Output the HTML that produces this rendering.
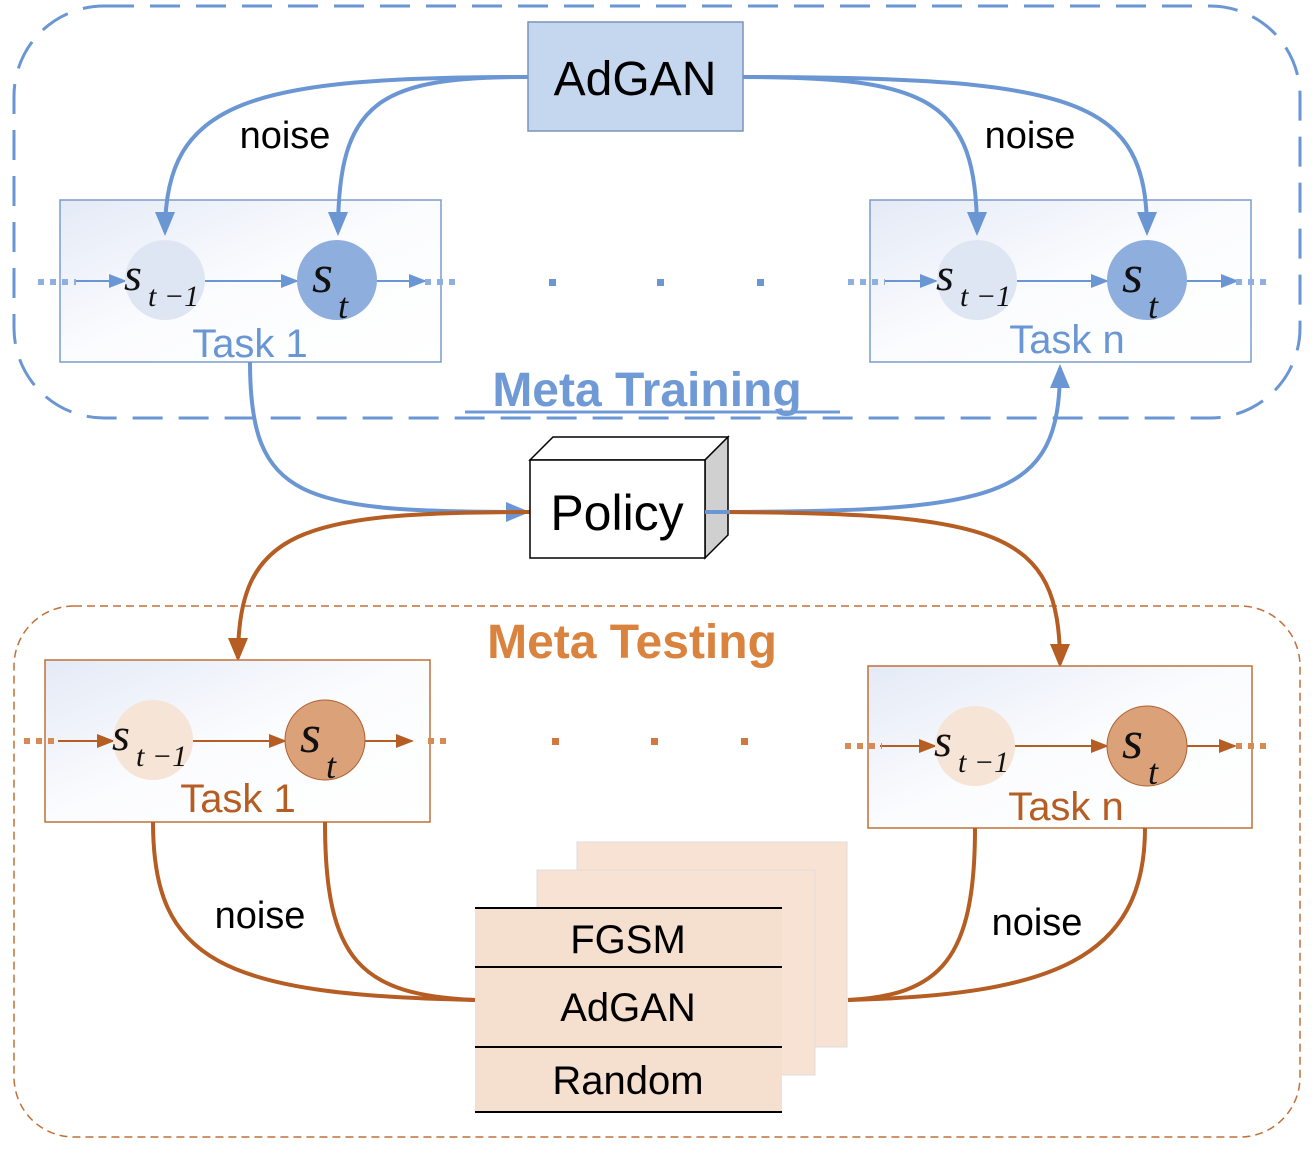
<!DOCTYPE html>
<html><head><meta charset="utf-8"><style>body{margin:0;background:#fff}svg{display:block}</style></head><body>
<svg width="1315" height="1155" viewBox="0 0 1315 1155" xmlns="http://www.w3.org/2000/svg" font-family="Liberation Sans, sans-serif">
<defs>
<linearGradient id="g" x1="0" y1="0" x2="1" y2="1"><stop offset="0" stop-color="#e4eaf6"/><stop offset="0.5" stop-color="#fbfcfe"/><stop offset="1" stop-color="#ffffff"/></linearGradient>
<marker id="abL" markerWidth="26" markerHeight="26" refX="20" refY="13" orient="auto" markerUnits="userSpaceOnUse"><path d="M0,3 L24,13 L0,23z" fill="#6a96d4"/></marker>
<marker id="abS" markerWidth="20" markerHeight="20" refX="16" refY="10" orient="auto" markerUnits="userSpaceOnUse"><path d="M0,3 L18,10 L0,17z" fill="#6a96d4"/></marker>
<marker id="ao" markerWidth="20" markerHeight="20" refX="16" refY="10" orient="auto" markerUnits="userSpaceOnUse"><path d="M0,3 L18,10 L0,17z" fill="#b55d22"/></marker>
<marker id="aoL" markerWidth="26" markerHeight="26" refX="20" refY="13" orient="auto" markerUnits="userSpaceOnUse"><path d="M0,3 L24,13 L0,23z" fill="#b55d22"/></marker>
</defs>
<rect x="14" y="6" width="1286" height="412" rx="90" fill="none" stroke="#6a96d4" stroke-width="3" stroke-dasharray="30 16"/>
<rect x="14" y="606" width="1286" height="531" rx="60" fill="none" stroke="#c0703a" stroke-width="1.5" stroke-dasharray="8 5"/>

<rect x="60" y="200" width="381" height="162" fill="url(#g)" stroke="#7b9ccc" stroke-width="1.5"/>
<rect x="870" y="200" width="381" height="162" fill="url(#g)" stroke="#7b9ccc" stroke-width="1.5"/>
<g stroke="#6a96d4" stroke-width="2" fill="none">
<line x1="75" y1="281" x2="125" y2="281" marker-end="url(#abS)"/>
<line x1="205" y1="281" x2="297" y2="281" marker-end="url(#abS)"/>
<line x1="377" y1="281" x2="425" y2="281" marker-end="url(#abS)"/>
<line x1="885" y1="281" x2="936" y2="281" marker-end="url(#abS)"/>
<line x1="1017" y1="281" x2="1107" y2="281" marker-end="url(#abS)"/>
<line x1="1187" y1="281" x2="1237" y2="281" marker-end="url(#abS)"/>
</g>
<g stroke="#8fb0de" stroke-width="6" stroke-dasharray="6 6"><line x1="38" y1="282" x2="76" y2="282"/><line x1="425" y1="282" x2="460" y2="282"/><line x1="848" y1="282" x2="885" y2="282"/><line x1="1236" y1="282" x2="1272" y2="282"/></g>
<g fill="#6a96d4"><rect x="549" y="279" width="7" height="7"/><rect x="657" y="279" width="7" height="7"/><rect x="757" y="279" width="7" height="7"/></g>
<circle cx="165" cy="280" r="40" fill="#dfe6f3"/>
<circle cx="337" cy="280" r="40" fill="#8eaedd"/>
<circle cx="977" cy="280" r="40" fill="#dfe6f3"/>
<circle cx="1147" cy="280" r="40" fill="#8eaedd"/>
<g font-family="Liberation Serif, serif" font-style="italic" fill="#111">
<text x="124" y="290" font-size="46">s</text><text x="148" y="306" font-size="30">t −1</text>
<text x="312" y="292" font-size="54">s</text><text x="338" y="318" font-size="36">t</text>
<text x="936" y="290" font-size="46">s</text><text x="960" y="306" font-size="30">t −1</text>
<text x="1122" y="292" font-size="54">s</text><text x="1148" y="318" font-size="36">t</text>
</g>
<text x="250" y="357" font-size="40" fill="#6a96d4" text-anchor="middle">Task 1</text>
<text x="1067" y="353" font-size="40" fill="#6a96d4" text-anchor="middle">Task n</text>

<rect x="528" y="22" width="215" height="109" fill="#c5d7ef" stroke="#7b93b8" stroke-width="1.5"/>
<text x="635" y="95" font-size="48" text-anchor="middle" fill="#000">AdGAN</text>
<g stroke="#6a96d4" stroke-width="4" fill="none">
<path d="M528,77 C250,77 165,100 165,232" marker-end="url(#abL)"/>
<path d="M528,77 C380,77 338,100 338,232" marker-end="url(#abL)"/>
<path d="M743,77 C930,77 977,100 977,232" marker-end="url(#abL)"/>
<path d="M743,77 C1080,77 1147,100 1147,232" marker-end="url(#abL)"/>
</g>
<text x="285" y="148" font-size="38" text-anchor="middle">noise</text>
<text x="1030" y="148" font-size="38" text-anchor="middle">noise</text>
<text x="647" y="406" font-size="48" font-weight="bold" fill="#6f9ad6" text-anchor="middle">Meta Training</text>
<line x1="465" y1="412" x2="840" y2="412" stroke="#6f9ad6" stroke-width="3"/>

<g stroke="#6a96d4" stroke-width="4" fill="none">
<path d="M250,362 C250,500 300,512 526,512" marker-end="url(#abL)"/>
<path d="M705,512 C1000,512 1060,500 1060,368" marker-end="url(#abL)"/>
</g>
<g stroke="#b55d22" stroke-width="4" fill="none">
<path d="M530,512 C300,512 238,530 238,658" marker-end="url(#aoL)"/>
<path d="M705,512 C1000,512 1060,530 1060,664" marker-end="url(#aoL)"/>
</g>
<polygon points="530,460 553,437 728,437 705,460" fill="#fff" stroke="#000" stroke-width="1.5"/>
<polygon points="705,460 728,437 728,535 705,558" fill="#d0d0d0" stroke="#000" stroke-width="1.5"/>
<rect x="530" y="460" width="175" height="98" fill="#fff" stroke="#000" stroke-width="1.5"/>
<text x="617" y="530" font-size="50" text-anchor="middle">Policy</text>
<line x1="705" y1="512" x2="730" y2="512" stroke="#6a96d4" stroke-width="4"/>

<text x="632" y="658" font-size="48" font-weight="bold" fill="#d9833f" text-anchor="middle">Meta Testing</text>

<rect x="45" y="660" width="385" height="162" fill="url(#g)" stroke="#c0703a" stroke-width="1.5"/>
<rect x="868" y="666" width="384" height="162" fill="url(#g)" stroke="#c0703a" stroke-width="1.5"/>
<g stroke="#b55d22" stroke-width="2" fill="none">
<line x1="58" y1="741" x2="113" y2="741" marker-end="url(#ao)"/>
<line x1="193" y1="741" x2="285" y2="741" marker-end="url(#ao)"/>
<line x1="365" y1="741" x2="412" y2="741" marker-end="url(#ao)"/>
<line x1="880" y1="746" x2="935" y2="746" marker-end="url(#ao)"/>
<line x1="1015" y1="746" x2="1107" y2="746" marker-end="url(#ao)"/>
<line x1="1187" y1="746" x2="1235" y2="746" marker-end="url(#ao)"/>
</g>
<g stroke="#d88a55" stroke-width="6" stroke-dasharray="6 6"><line x1="24" y1="741" x2="60" y2="741"/><line x1="428" y1="741" x2="450" y2="741"/><line x1="845" y1="746" x2="882" y2="746"/><line x1="1236" y1="746" x2="1272" y2="746"/></g>
<g fill="#d0783e"><rect x="552" y="738" width="7" height="7"/><rect x="651" y="738" width="7" height="7"/><rect x="741" y="738" width="7" height="7"/></g>
<circle cx="153" cy="740" r="40" fill="#f6e4d6"/>
<circle cx="325" cy="740" r="40" fill="#dba27a" stroke="#b06030" stroke-width="1"/>
<circle cx="975" cy="746" r="40" fill="#f6e4d6"/>
<circle cx="1147" cy="746" r="40" fill="#dba27a" stroke="#b06030" stroke-width="1"/>
<g font-family="Liberation Serif, serif" font-style="italic" fill="#111">
<text x="112" y="750" font-size="46">s</text><text x="136" y="766" font-size="30">t −1</text>
<text x="300" y="752" font-size="54">s</text><text x="326" y="778" font-size="36">t</text>
<text x="934" y="756" font-size="46">s</text><text x="958" y="772" font-size="30">t −1</text>
<text x="1122" y="758" font-size="54">s</text><text x="1148" y="784" font-size="36">t</text>
</g>
<text x="238" y="812" font-size="40" fill="#b55d22" text-anchor="middle">Task 1</text>
<text x="1066" y="820" font-size="40" fill="#b55d22" text-anchor="middle">Task n</text>

<rect x="577" y="842" width="270" height="205" fill="#f7e2d3" stroke="#ddd" stroke-width="1"/>
<rect x="537" y="870" width="278" height="205" fill="#f7e2d3" stroke="#ddd" stroke-width="1"/>
<rect x="475" y="908" width="307" height="204" fill="#f5dfcf"/>
<g stroke="#000" stroke-width="2"><line x1="475" y1="908" x2="782" y2="908"/><line x1="475" y1="967" x2="782" y2="967"/><line x1="475" y1="1047" x2="782" y2="1047"/><line x1="475" y1="1112" x2="782" y2="1112"/></g>
<text x="628" y="953" font-size="40" text-anchor="middle">FGSM</text>
<text x="628" y="1021" font-size="40" text-anchor="middle">AdGAN</text>
<text x="628" y="1094" font-size="40" text-anchor="middle">Random</text>

<g stroke="#b55d22" stroke-width="4" fill="none">
<path d="M153,822 C153,960 220,995 475,1000"/>
<path d="M325,822 C325,960 360,995 475,1000"/>
<path d="M975,828 C975,960 940,995 848,1000"/>
<path d="M1145,828 C1145,960 1050,995 848,1000"/>
</g>
<text x="260" y="928" font-size="38" text-anchor="middle">noise</text>
<text x="1037" y="935" font-size="38" text-anchor="middle">noise</text>
</svg>
</body></html>
